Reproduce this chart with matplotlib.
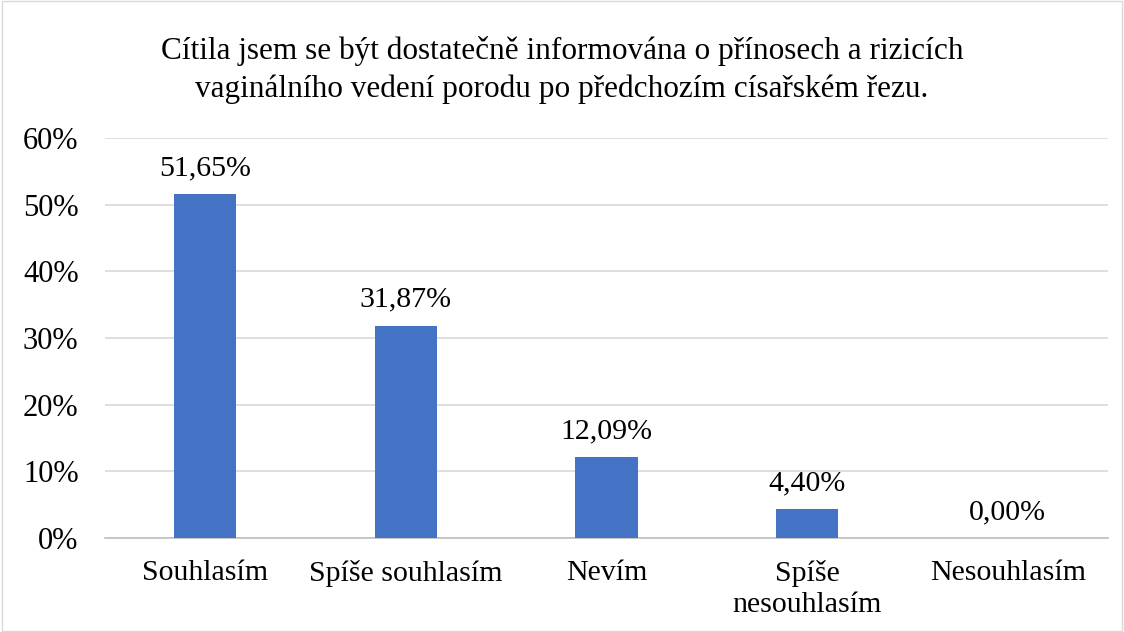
import numpy as np
import matplotlib.pyplot as plt
from matplotlib.patches import Rectangle

categories = ['Souhlasím', 'Spíše souhlasím', 'Nevím', 'Spíše\nnesouhlasím', 'Nesouhlasím']
values = [51.65, 31.87, 12.09, 4.40, 0.00]
labels = ['51,65%', '31,87%', '12,09%', '4,40%', '0,00%']
title = ('Cítila jsem se být dostatečně informována o přínosech a rizicích\n'
         'vaginálního vedení porodu po předchozím císařském řezu.')

plt.rcParams['font.family'] = ['Liberation Serif', 'DejaVu Serif']

fig = plt.figure(figsize=(11.24, 6.32), dpi=100)
ax = fig.add_axes([105 / 1124, 1 - 538 / 632, 1003 / 1124, 400 / 632])

x = np.arange(len(categories))
ax.bar(x, values, width=0.31, color='#4472C4', zorder=3)
for xi, v, lab in zip(x, values, labels):
    ax.text(xi, v + 1.9, lab, ha='center', va='bottom', fontsize=21.5)

ax.set_xlim(-0.5, 4.5)
ax.set_ylim(0, 60)
ax.set_yticks(np.arange(0, 61, 10))
ax.set_yticklabels([f'{t}%' for t in range(0, 61, 10)], fontsize=22)
ax.set_xticks(x)
ax.set_xticklabels(categories, fontsize=21.5, linespacing=1.25)
ax.tick_params(axis='both', length=0)
ax.tick_params(axis='x', pad=16)
ax.tick_params(axis='y', pad=19)
ax.grid(axis='y', color='#D9D9D9', linewidth=1.2, zorder=0)
for s in ['top', 'right', 'left']:
    ax.spines[s].set_visible(False)
ax.spines['bottom'].set_color('#BFBFBF')
ax.spines['bottom'].set_linewidth(1.2)

fig.text(0.5, 1 - 70 / 632, title, ha='center', va='center', fontsize=22.5, linespacing=1.35)
fig.patches.append(Rectangle((0.002, 0.002), 0.996, 0.996, transform=fig.transFigure,
                             fill=False, edgecolor='#D9D9D9', linewidth=1))

fig.savefig('out.png', dpi=100)
